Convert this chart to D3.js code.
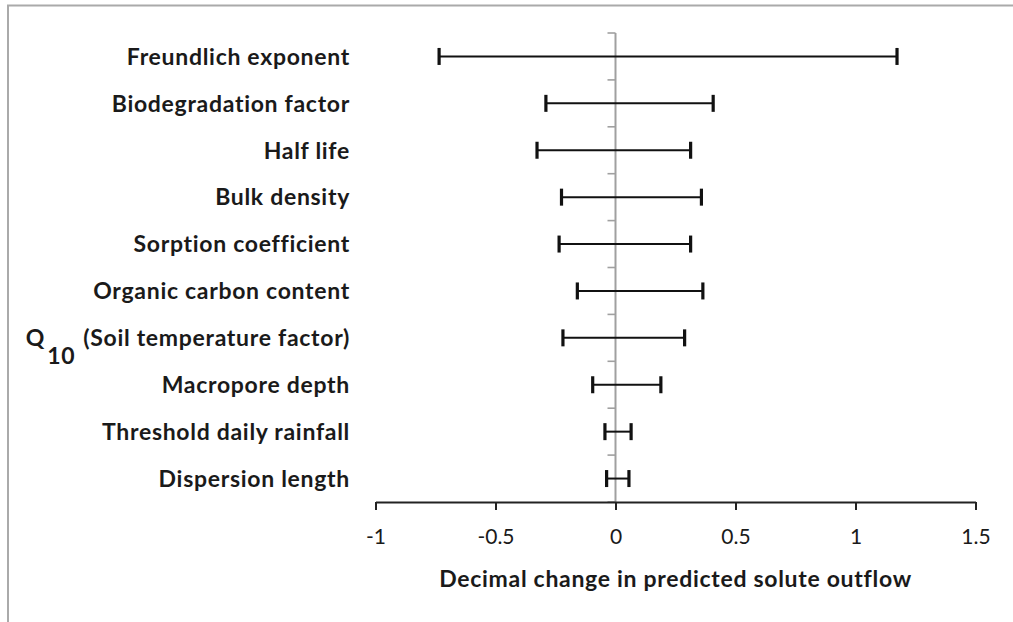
<!DOCTYPE html>
<html>
<head>
<meta charset="utf-8">
<script src="https://cdn.jsdelivr.net/npm/d3@7"></script>
<style>
  html, body { margin: 0; padding: 0; background: #fff; }
  svg { display: block; }
  text { font-variant-ligatures: none; font-feature-settings: "liga" 0; }
</style>
</head>
<body>
<svg id="chart" width="1013" height="622"></svg>
<script>
// ---- data ----
const categories = [
  "Freundlich exponent",
  "Biodegradation factor",
  "Half life",
  "Bulk density",
  "Sorption coefficient",
  "Organic carbon content",
  "Q10 (Soil temperature factor)",
  "Macropore depth",
  "Threshold daily rainfall",
  "Dispersion length"
];
const lowValues  = [-0.735, -0.29, -0.327, -0.225, -0.235, -0.159, -0.219, -0.095, -0.044, -0.037];
const highValues = [1.173, 0.407, 0.313, 0.358, 0.313, 0.364, 0.288, 0.189, 0.065, 0.056];
const xTicks = [-1, -0.5, 0, 0.5, 1, 1.5];
const xTitle = "Decimal change in predicted solute outflow";

// ---- layout ----
const svg = d3.select("#chart");
const FONT = "Lato, 'Open Sans', sans-serif";

// chart border (extends beyond right/bottom edges)
svg.append("rect")
  .attr("x", 8).attr("y", 5.5)
  .attr("width", 1200).attr("height", 800)
  .attr("fill", "none").attr("stroke", "#aaaaaa").attr("stroke-width", 2);

const x = d3.scaleLinear().domain([-1, 1.5]).range([375.5, 975.5]);
const y = d3.scaleBand().domain(categories).range([33, 502]).padding(0);
const yMid = c => y(c) + y.bandwidth() / 2;

// vertical (category) axis at x = 0 with ticks on the left
const yAxisG = svg.append("g").attr("transform", `translate(${x(0)},0)`);
yAxisG.append("line")
  .attr("x1", 0).attr("x2", 0)
  .attr("y1", y.range()[0]).attr("y2", y.range()[1])
  .attr("stroke", "#a0a0a0").attr("stroke-width", 2);
const boundaries = categories.map(c => y(c)).concat([y.range()[1]]);
yAxisG.selectAll("line.tick").data(boundaries).enter().append("line")
  .attr("class", "tick")
  .attr("x1", -8).attr("x2", 0)
  .attr("y1", d => d).attr("y2", d => d)
  .attr("stroke", "#a0a0a0").attr("stroke-width", 1.6);

// horizontal axis
const xAxis = d3.axisBottom(x).tickValues(xTicks)
  .tickFormat(d => String(d)).tickSize(8).tickSizeOuter(0).tickPadding(19);
const xAxisG = svg.append("g")
  .attr("transform", `translate(0,${y.range()[1]})`)
  .call(xAxis);
xAxisG.select(".domain").attr("stroke", "#222").attr("stroke-width", 2);
xAxisG.selectAll(".tick line").attr("stroke", "#222").attr("stroke-width", 2);
xAxisG.selectAll(".tick text")
  .attr("font-family", FONT).attr("font-size", 21).attr("fill", "#1a1a1a");

// error bars
const bars = svg.append("g");
categories.forEach((c, i) => {
  const yc = yMid(c);
  bars.append("line")
    .attr("x1", x(lowValues[i])).attr("x2", x(highValues[i]))
    .attr("y1", yc).attr("y2", yc)
    .attr("stroke", "#111").attr("stroke-width", 2);
  [lowValues[i], highValues[i]].forEach(v => {
    bars.append("line")
      .attr("x1", x(v)).attr("x2", x(v))
      .attr("y1", yc - 8.5).attr("y2", yc + 8.5)
      .attr("stroke", "#111").attr("stroke-width", 3.2);
  });
});

// category labels
const labelG = svg.append("g")
  .attr("font-family", FONT).attr("font-weight", "bold")
  .attr("font-size", 23).attr("letter-spacing", 0.7).attr("fill", "#1a1a1a");
categories.forEach(c => {
  const t = labelG.append("text")
    .attr("x", 350).attr("y", yMid(c)).attr("dy", "0.36em")
    .attr("text-anchor", "end");
  if (c.startsWith("Q10")) {
    t.append("tspan").text("Q");
    t.append("tspan").attr("dx", 2).attr("dy", 18).text("10");
    t.append("tspan").attr("dx", 8).attr("dy", -18).text(c.slice(4));
  } else {
    t.text(c);
  }
});

// axis title
svg.append("text")
  .attr("x", (x.range()[0] + x.range()[1]) / 2).attr("y", 587)
  .attr("text-anchor", "middle")
  .attr("font-family", FONT).attr("font-weight", "bold")
  .attr("font-size", 23).attr("letter-spacing", 0.7).attr("fill", "#1a1a1a")
  .text(xTitle);
</script>
</body>
</html>
